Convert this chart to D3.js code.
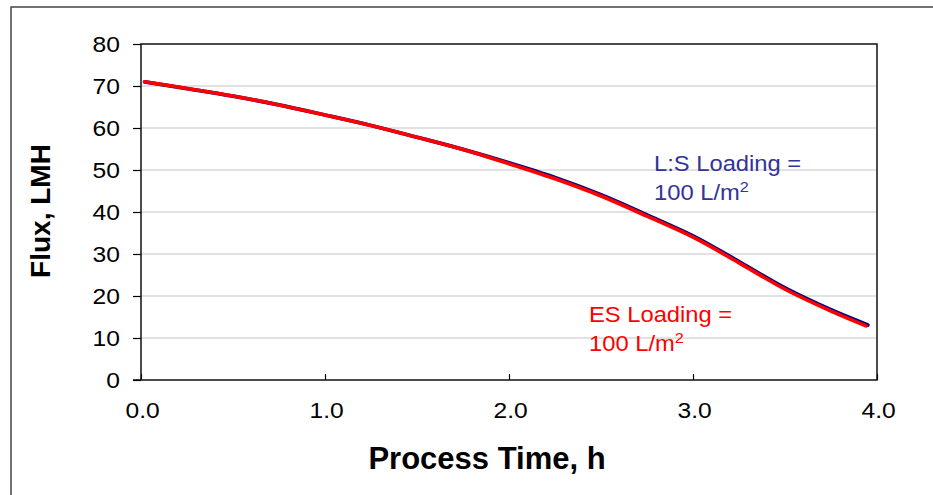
<!DOCTYPE html>
<html>
<head>
<meta charset="utf-8">
<script src="https://cdn.jsdelivr.net/npm/d3@7"></script>
<style>
  html, body { margin: 0; padding: 0; background: #fff; }
  svg { display: block; font-family: Arial, "Liberation Sans", sans-serif; }
</style>
</head>
<body>
<div id="chart"></div>
<script>
const W = 933;
const H = 495;

// process time (h) and flux (LMH)
const time = [0.02, 0.25, 0.5, 0.75, 1.0, 1.25, 1.5, 1.75, 2.0, 2.25, 2.5, 2.75, 3.0, 3.25, 3.5, 3.75, 3.94];
const timeLS = [0.02, 0.25, 0.5, 0.75, 1.0, 1.25, 1.5, 1.75, 2.0, 2.25, 2.5, 2.75, 3.0, 3.25, 3.5, 3.75, 3.95];
const fluxES = [71.0, 69.4, 67.6, 65.5, 63.1, 60.6, 57.8, 54.9, 51.5, 47.9, 43.8, 39.0, 34.0, 27.9, 21.6, 16.4, 12.9];
const fluxLS = [71.0, 69.4, 67.6, 65.5, 63.1, 60.6, 57.8, 54.9, 51.7, 48.2, 44.1, 39.3, 34.3, 28.2, 21.9, 16.7, 13.1];

const xTicks = [0, 1, 2, 3, 4];
const yTicks = [0, 10, 20, 30, 40, 50, 60, 70, 80];

const plot = { left: 141, right: 877, top: 44, bottom: 380 };
const stretch = 1.08;     // the source picture's text is a bit wide
const tickStretch = 1.12;

const x = d3.scaleLinear().domain([0, 4]).range([plot.left, plot.right]);
const y = d3.scaleLinear().domain([0, 80]).range([plot.bottom, plot.top]);

const svg = d3.select("#chart").append("svg")
  .attr("width", W).attr("height", H)
  .attr("viewBox", `0 0 ${W} ${H}`);

// outer chart frame (runs off right and bottom edges)
svg.append("rect")
  .attr("x", 11).attr("y", 7)
  .attr("width", W + 20).attr("height", H + 20)
  .attr("fill", "none").attr("stroke", "#444").attr("stroke-width", 1.5);

// gridlines
svg.append("g").selectAll("line")
  .data(yTicks.filter((d) => d > 0 && d < 80))
  .join("line")
  .attr("x1", plot.left).attr("x2", plot.right)
  .attr("y1", (d) => y(d)).attr("y2", (d) => y(d))
  .attr("stroke", "#c4c4c4").attr("stroke-width", 1);

// y axis: ticks outside
const yAxis = svg.append("g")
  .attr("transform", `translate(${plot.left},0)`)
  .call(d3.axisLeft(y).tickValues(yTicks).tickSize(8).tickPadding(13).tickFormat(d3.format("d")));
yAxis.select(".domain").remove();
yAxis.selectAll("line").attr("stroke", "#000").attr("stroke-width", 1.2);
yAxis.selectAll("text")
  .style("font-size", "22px").attr("fill", "#000")
  .attr("font-family", "Arial, 'Liberation Sans', sans-serif")
  .attr("transform", `translate(-21,0) scale(${tickStretch},1) translate(21,0)`);

// x axis: ticks point inward
const xAxis = svg.append("g")
  .attr("transform", `translate(0,${plot.bottom})`)
  .call(d3.axisBottom(x).tickValues(xTicks).tickSize(-6).tickPadding(0).tickFormat(d3.format(".1f")));
xAxis.select(".domain").remove();
xAxis.selectAll("line").attr("stroke", "#000").attr("stroke-width", 1.2);
xAxis.selectAll("text")
  .attr("y", 38).attr("dy", null)
  .style("font-size", "22px").attr("fill", "#000")
  .attr("font-family", "Arial, 'Liberation Sans', sans-serif")
  .attr("transform", `scale(${tickStretch},1)`)
  .attr("x", 1);

// plot area border
svg.append("rect")
  .attr("x", plot.left).attr("y", plot.top)
  .attr("width", plot.right - plot.left).attr("height", plot.bottom - plot.top)
  .attr("fill", "none").attr("stroke", "#111").attr("stroke-width", 1.5);
svg.append("line")
  .attr("x1", plot.left - 8).attr("x2", plot.left)
  .attr("y1", plot.bottom).attr("y2", plot.bottom)
  .attr("stroke", "#000").attr("stroke-width", 1.5);

// curves
const line = d3.line()
  .x((d) => x(d[0]))
  .y((d) => y(d[1]))
  .curve(d3.curveCatmullRom.alpha(0.5));

svg.append("path")
  .datum(timeLS.map((t, i) => [t, fluxLS[i]]))
  .attr("d", line)
  .attr("fill", "none").attr("stroke", "#000080").attr("stroke-width", 3.8)
  .attr("stroke-linecap", "round");

svg.append("path")
  .datum(time.map((t, i) => [t, fluxES[i]]))
  .attr("d", line)
  .attr("fill", "none").attr("stroke", "#ff0000").attr("stroke-width", 3.6)
  .attr("stroke-linecap", "round");

// annotations
function note(lines, xPos, yPos, color) {
  const g = svg.append("g").attr("transform", `translate(${xPos},${yPos}) scale(${stretch},1)`);
  const t = g.append("text")
    .attr("x", 0).attr("y", 0)
    .attr("font-size", 22).attr("fill", color);
  t.append("tspan").attr("x", 0).text(lines[0]);
  t.append("tspan").attr("x", 0).attr("dy", 29).text(lines[1]);
  t.append("tspan").attr("dy", -8).attr("font-size", 15).text("2");
}
note(["L:S Loading =", "100 L/m"], 654, 171, "#333399");
note(["ES Loading =", "100 L/m"], 589, 322, "#ff0000");

// axis titles
svg.append("text")
  .attr("x", 487).attr("y", 469)
  .attr("text-anchor", "middle")
  .attr("font-size", 31).attr("font-weight", "bold")
  .text("Process Time, h");

svg.append("text")
  .attr("transform", `translate(50,211) rotate(-90)`)
  .attr("text-anchor", "middle")
  .attr("font-size", 28).attr("font-weight", "bold")
  .text("Flux, LMH");
</script>
</body>
</html>
